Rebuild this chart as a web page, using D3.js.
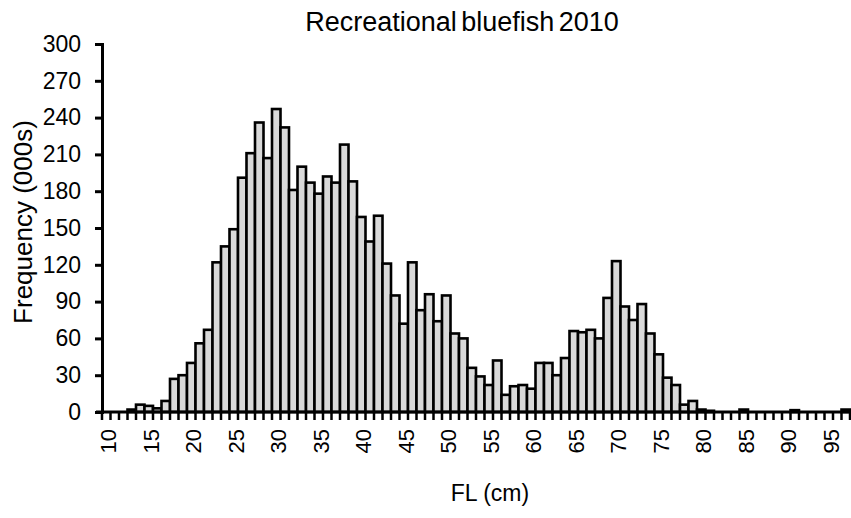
<!DOCTYPE html>
<html>
<head>
<meta charset="utf-8">
<script src="https://cdn.jsdelivr.net/npm/d3@7"></script>
<style>
  body { margin: 0; background: #fff; }
  svg { display: block; font-family: Arial, "Liberation Sans", sans-serif; }
</style>
</head>
<body>
<svg id="chart" width="851" height="518"></svg>
<script>

// Length classes (cm).
var lengths = d3.range(10, 98);

// Frequency (000s) for each length class.
var frequencies = [
  0, 0, 0, 2, 6, 5, 3, 9, 27, 30,
  40, 56, 67, 122, 135, 149, 191, 211, 236, 207,
  247, 232, 181, 200, 187, 178, 192, 187, 218, 188,
  159, 139, 160, 121, 95, 72, 122, 83, 96, 74,
  95, 64, 60, 36, 29, 22, 42, 14, 21, 22,
  19, 40, 40, 30, 44, 66, 65, 67, 60, 93,
  123, 86, 75, 88, 64, 47, 28, 22, 6, 9,
  2, 1, 0, 0, 0, 2, 0, 0, 0, 0,
  0, 1.5, 0, 0, 0, 0, 0, 2
];

// Axis ticks.
var yTicks = d3.range(0, 301, 30);
var xLabels = d3.range(10, 96, 5);

var title = 'Recreational bluefish 2010';
var xTitle = 'FL (cm)';
var yTitle = 'Frequency (000s)';

// Plot frame.
var plotLeft = 102, plotRight = 850, plotTop = 44, plotBottom = 412;

var svg = d3.select('#chart');

// Scales.
var x = d3.scaleBand()
  .domain(lengths)
  .range([plotLeft, plotRight])
  .padding(0);

var y = d3.scaleLinear()
  .domain([0, 300])
  .range([plotBottom, plotTop]);

// Bars.
svg.append('g')
  .selectAll('rect')
  .data(lengths)
  .join('rect')
  .attr('x', function(d) { return x(d); })
  .attr('width', x.bandwidth())
  .attr('y', function(d, i) { return y(frequencies[i]); })
  .attr('height', function(d, i) { return plotBottom - y(frequencies[i]); })
  .attr('fill', '#d9d9d9')
  .attr('stroke', '#000')
  .attr('stroke-width', 2.6);

// Y axis.
var yAxis = svg.append('g')
  .attr('transform', 'translate(' + plotLeft + ',0)')
  .call(d3.axisLeft(y).tickValues(yTicks).tickSize(7).tickPadding(14));

yAxis.select('.domain').attr('stroke-width', 3);
yAxis.selectAll('.tick line').attr('stroke-width', 3);
yAxis.selectAll('.tick text')
  .attr('font-size', 23)
  .attr('font-family', 'Arial, "Liberation Sans", sans-serif')
  .attr('fill', '#000');

// X axis: tick marks between categories.
var xAxis = svg.append('g');

xAxis.append('line')
  .attr('x1', plotLeft - 6).attr('x2', plotRight)
  .attr('y1', plotBottom).attr('y2', plotBottom)
  .attr('stroke', '#000')
  .attr('stroke-width', 3);

xAxis.selectAll('line.tick')
  .data(lengths.concat([98]))
  .join('line')
  .attr('class', 'tick')
  .attr('x1', function(d) { return d === 98 ? plotRight : x(d); })
  .attr('x2', function(d) { return d === 98 ? plotRight : x(d); })
  .attr('y1', plotBottom)
  .attr('y2', plotBottom + 8)
  .attr('stroke', '#000')
  .attr('stroke-width', 2.5);

xAxis.selectAll('text')
  .data(xLabels)
  .join('text')
  .attr('transform', function(d) {
    return 'translate(' + (x(d) + x.bandwidth() / 2 + 10) + ',429) rotate(-90)';
  })
  .attr('text-anchor', 'end')
  .attr('font-size', 22)
  .text(function(d) { return d; });

// Titles.
svg.append('text')
  .attr('x', 462).attr('y', 31)
  .attr('text-anchor', 'middle')
  .attr('font-size', 27)
  .style('word-spacing', '-3px')
  .text(title);

svg.append('text')
  .attr('x', 490).attr('y', 501)
  .attr('text-anchor', 'middle')
  .attr('font-size', 23)
  .text(xTitle);

svg.append('text')
  .attr('transform', 'translate(32,222) rotate(-90)')
  .attr('text-anchor', 'middle')
  .attr('font-size', 26)
  .text(yTitle);

</script>
</body>
</html>
